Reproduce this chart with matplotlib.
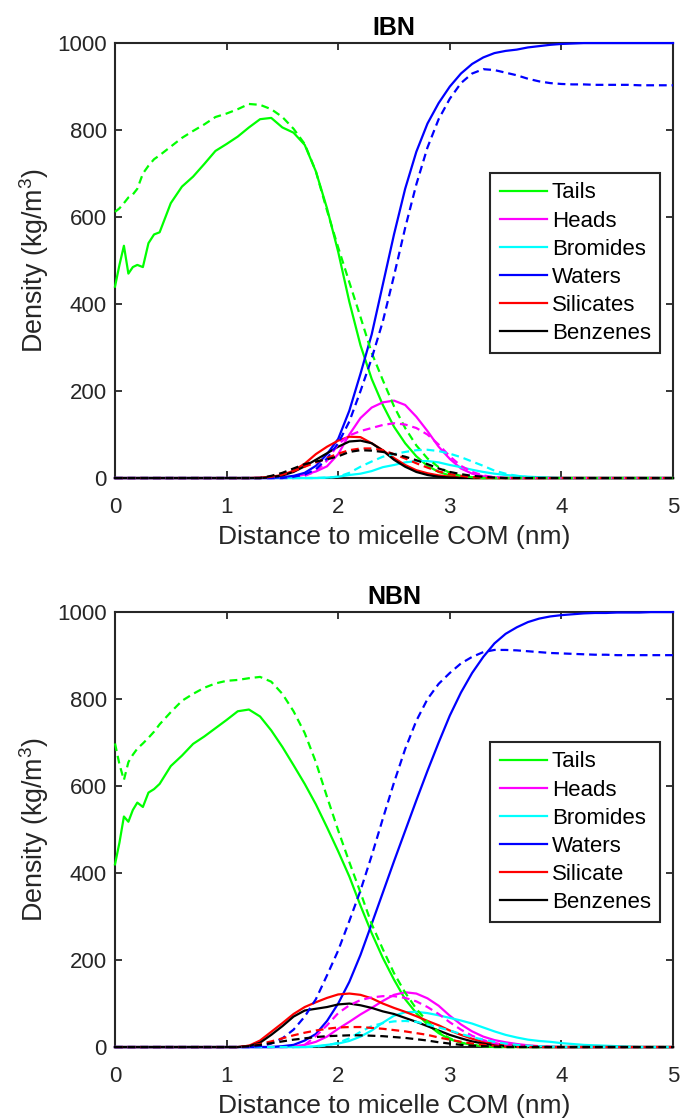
import numpy as np
import matplotlib
matplotlib.use("Agg")
import matplotlib.pyplot as plt

plt.rcParams['font.family'] = ['Liberation Sans', 'DejaVu Sans']
plt.rcParams['mathtext.fontset'] = 'custom'
plt.rcParams['mathtext.rm'] = 'Liberation Sans'
plt.rcParams['mathtext.default'] = 'regular'

# distance grids (nm)
r = np.round(np.arange(51) * 0.1, 1)
r_tail = np.concatenate([[0, 0.04, 0.08, 0.12, 0.16, 0.2, 0.25, 0.3, 0.35, 0.4], r[5:]])

# ---------------- IBN ----------------
ibn_tails = ([440, 490, 534, 470, 485, 490, 485, 540, 560, 565]
             + [632, 670, 693, 722, 752, 768, 785, 806, 825, 828, 806, 794, 766, 705, 620, 520,
                405, 305, 228, 168, 118, 80, 50, 28, 14, 6, 2] + [0] * 19)
ibn_tails_d = ([612, 620, 632, 645, 652, 665, 700, 718, 733, 742]
               + [762, 782, 798, 813, 830, 838, 848, 860, 858, 848, 830, 803, 768, 705, 615, 530,
                  450, 370, 288, 225, 165, 115, 75, 45, 25, 12, 5, 2] + [0] * 18)
ibn_waters = ([0] * 15
              + [2, 5, 12, 28, 55, 90, 155, 240, 330, 445, 560, 665, 750, 815, 862, 900, 930, 952,
                 967, 977, 982, 985, 990, 993, 996, 998, 999] + [1000] * 9)
ibn_waters_d = ([0] * 16
                + [3, 8, 20, 45, 80, 130, 200, 275, 360, 465, 575, 675, 760, 825, 872, 908, 930, 940,
                   938, 932, 926, 918, 912, 908, 906, 905, 905, 904, 904, 904, 904, 903, 903, 903, 903])
ibn_heads = ([0] * 16
             + [3, 8, 15, 27, 55, 100, 138, 162, 174, 178, 168, 141, 108, 72, 44, 22, 10, 4, 1] + [0] * 16)
ibn_heads_d = ([0] * 17
               + [5, 15, 40, 78, 98, 108, 115, 122, 126, 123, 115, 100, 77, 50, 28, 14, 6, 2] + [0] * 16)
ibn_brom = ([0] * 19
            + [1, 3, 7, 10, 16, 25, 30, 36, 39, 39, 36, 30, 25, 19, 14, 10, 7, 5, 3, 2, 1] + [0] * 11)
ibn_brom_d = ([0] * 19
              + [1, 3, 12, 26, 38, 49, 55, 60, 64, 65, 62, 56, 48, 38, 28, 17, 10, 5, 2, 1] + [0] * 12)
ibn_sil = ([0] * 13
           + [1, 3, 7, 17, 33, 55, 72, 86, 95, 94, 80, 64, 46, 30, 18, 11, 6, 3, 1] + [0] * 19)
ibn_sil_d = ([0] * 14
             + [3, 8, 16, 26, 36, 46, 56, 64, 68, 68, 64, 55, 45, 34, 24, 15, 9, 5, 2, 1] + [0] * 17)
ibn_benz = ([0] * 14
            + [2, 6, 14, 27, 42, 57, 72, 84, 86, 80, 63, 42, 26, 14, 7, 3, 1] + [0] * 20)
ibn_benz_d = ([0] * 14
              + [5, 12, 22, 32, 38, 43, 50, 60, 64, 63, 60, 55, 49, 41, 32, 22, 14, 9, 5, 3, 1] + [0] * 16)

# ---------------- NBN ----------------
nbn_tails = ([420, 470, 530, 518, 545, 562, 552, 585, 593, 605]
             + [646, 670, 697, 714, 733, 752, 772, 776, 760, 728, 690, 648, 605, 558, 505, 450,
                392, 325, 262, 205, 155, 110, 78, 52, 32, 18, 10, 5, 2] + [0] * 17)
nbn_tails_d = ([698, 650, 614, 655, 672, 686, 698, 711, 725, 742]
               + [770, 796, 812, 826, 836, 842, 844, 848, 851, 840, 812, 772, 722, 655, 575, 498,
                  425, 355, 283, 225, 170, 125, 88, 58, 35, 20, 10, 5, 2] + [0] * 17)
nbn_waters = ([0] * 15
              + [2, 5, 15, 30, 60, 100, 150, 212, 283, 355, 427, 497, 567, 635, 700, 762, 815, 860,
                 897, 928, 950, 965, 977, 985, 990, 993, 995, 997, 998, 998, 999, 999, 999] + [1000] * 3)
nbn_waters_d = ([0] * 13
                + [2, 8, 20, 40, 70, 110, 165, 222, 290, 360, 440, 525, 608, 685, 750, 800, 835, 860,
                   882, 897, 908, 913, 913, 912, 910, 908, 906, 905, 904, 903, 902, 902, 901, 901,
                   901, 901, 901, 901])
nbn_heads = ([0] * 16
             + [2, 5, 12, 24, 42, 58, 75, 90, 106, 120, 126, 123, 112, 95, 72, 52, 36, 24, 16, 11,
                7, 4, 2, 1] + [0] * 11)
nbn_heads_d = ([0] * 17
               + [5, 25, 50, 78, 96, 108, 114, 117, 117, 113, 105, 92, 76, 57, 40, 26, 16, 9, 5, 2, 1]
               + [0] * 13)
nbn_brom = ([0] * 18
            + [2, 5, 8, 14, 24, 38, 56, 72, 80, 81, 78, 73, 67, 61, 54, 45, 36, 28, 22, 17, 14, 12,
               9, 7, 5, 4, 3, 2, 1] + [0] * 4)
nbn_brom_d = ([0] * 18
              + [1, 4, 10, 20, 35, 48, 55, 59, 60, 58, 52, 45, 38, 30, 23, 17, 12, 8, 5, 3, 2, 1]
              + [0] * 11)
nbn_sil = ([0] * 12
           + [3, 15, 35, 55, 76, 92, 103, 113, 121, 123, 120, 112, 100, 90, 81, 71, 60, 50, 38, 28,
              19, 12, 8, 5, 3, 2, 1] + [0] * 12)
nbn_sil_d = ([0] * 12
             + [3, 7, 13, 20, 27, 33, 38, 42, 45, 46, 46, 44, 42, 39, 36, 32, 28, 22, 17, 12, 8, 5,
                3, 1] + [0] * 15)
nbn_benz = ([0] * 12
            + [2, 10, 28, 48, 70, 84, 88, 92, 98, 100, 96, 90, 82, 76, 67, 58, 48, 38, 28, 20, 13,
               8, 4, 2, 1] + [0] * 14)
nbn_benz_d = ([0] * 12
              + [2, 5, 9, 13, 17, 20, 23, 25, 26, 27, 27, 26, 25, 23, 21, 18, 15, 11, 8, 5, 3, 2, 1]
              + [0] * 16)

colors = {"Tails": "#00ff00", "Heads": "#ff00ff", "Bromides": "#00ffff",
          "Waters": "#0000ff", "Silicates": "#ff0000", "Benzenes": "#000000"}
dark = "#262626"


def draw(ax, title, series, sil_label):
    for name, (x, solid, dashed) in series.items():
        lab = sil_label if name == "Silicates" else name
        ax.plot(x, solid, color=colors[name], lw=1.6, label=lab, clip_on=False, zorder=3)
    for name, (x, solid, dashed) in series.items():
        ax.plot(x, dashed, color=colors[name], lw=1.6, ls=(0, (3.5, 2.2)), clip_on=False, zorder=3)
    ax.set_xlim(0, 5)
    ax.set_ylim(0, 1000)
    ax.set_xticks(range(6))
    ax.set_yticks(range(0, 1001, 200))
    ax.tick_params(direction="in", top=True, right=True, length=5, width=1.3,
                   labelsize=16, colors=dark, labelcolor=dark, pad=6)
    ax.tick_params(axis="x", pad=14)
    for s in ax.spines.values():
        s.set_color(dark)
        s.set_linewidth(1.5)
    ax.set_title(title, fontsize=18, fontweight="bold", pad=6)
    ax.set_xlabel("Distance to micelle COM (nm)", fontsize=19, color=dark, labelpad=5)
    ax.set_ylabel("Density (kg/m$^3$)", fontsize=19.4, color=dark, labelpad=4.5)
    leg = ax.legend(loc="upper right", bbox_to_anchor=(0.977, 0.701), borderaxespad=0,
                    fontsize=16, fancybox=False, framealpha=1, edgecolor=dark,
                    handlelength=2.15, handletextpad=0.2, labelspacing=0.32, borderpad=0.42)
    leg.get_frame().set_linewidth(1.5)
    leg.set_zorder(5)


fig = plt.figure(figsize=(6.8, 11.19), dpi=100)
ax1 = fig.add_axes([0.1691, 0.5728, 0.8206, 0.3887])
ax2 = fig.add_axes([0.1691, 0.0643, 0.8206, 0.3887])

draw(ax1, "IBN", {
    "Tails": (r_tail, ibn_tails, ibn_tails_d),
    "Heads": (r, ibn_heads, ibn_heads_d),
    "Bromides": (r, ibn_brom, ibn_brom_d),
    "Waters": (r, ibn_waters, ibn_waters_d),
    "Silicates": (r, ibn_sil, ibn_sil_d),
    "Benzenes": (r, ibn_benz, ibn_benz_d),
}, "Silicates")

draw(ax2, "NBN", {
    "Tails": (r_tail, nbn_tails, nbn_tails_d),
    "Heads": (r, nbn_heads, nbn_heads_d),
    "Bromides": (r, nbn_brom, nbn_brom_d),
    "Waters": (r, nbn_waters, nbn_waters_d),
    "Silicates": (r, nbn_sil, nbn_sil_d),
    "Benzenes": (r, nbn_benz, nbn_benz_d),
}, "Silicate")

fig.savefig("out.png", dpi=100)
